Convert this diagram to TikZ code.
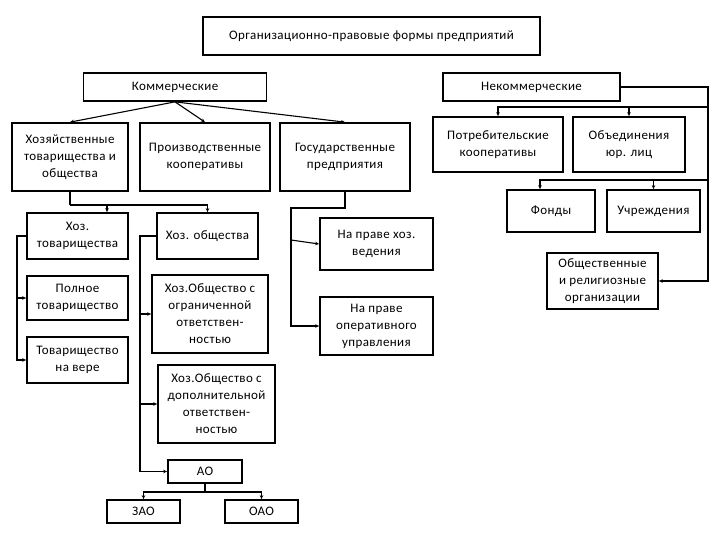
\documentclass[tikz,border=0pt]{standalone}
\usepackage{fontspec}
\setmainfont{Carlito}[LetterSpace=3]
\usetikzlibrary{arrows.meta}
\begin{document}
\begin{tikzpicture}[x=1pt,y=-1pt,
  box/.style={draw, line width=1.7pt, align=center, inner sep=0pt,
    font=\fontsize{13}{17}\selectfont},
  ln/.style={line width=1.1pt},
  arr/.style={line width=1.1pt, -{Stealth[length=4pt,width=3.5pt]}}]
\useasboundingbox (0,0) rectangle (720,540);
\node[box, minimum width=337, minimum height=38] (title) at (371.5,36) {Организационно-правовые формы предприятий};
\node[box, minimum width=183, minimum height=28] (kom) at (175,87) {Коммерческие};
\node[box, minimum width=177, minimum height=28] (nekom) at (531.5,87) {Некоммерческие};
\node[box, minimum width=116, minimum height=68] (hoz) at (70,157) {Хозяйственные\\товарищества и\\общества};
\node[box, minimum width=130, minimum height=68] (proizv) at (205,157) {Производственные\\кооперативы};
\node[box, minimum width=130, minimum height=68] (gos) at (345,157) {Государственные\\предприятия};
\node[box, minimum width=130, minimum height=55] (potr) at (498,144.5) {Потребительские\\кооперативы};
\node[box, minimum width=112, minimum height=55] (obed) at (629,144.5) {Объединения\\юр. лиц};
\node[box, minimum width=88, minimum height=42] (fond) at (551,211) {Фонды};
\node[box, minimum width=93, minimum height=42] (uchr) at (653.5,211) {Учреждения};
\node[box, minimum width=111, minimum height=56] (obsh) at (602.5,281) {Общественные\\и религиозные\\организации};
\node[box, minimum width=101, minimum height=46] (htov) at (77.5,236) {Хоз.\\товарищества};
\node[box, minimum width=101, minimum height=46] (hobsh) at (207.5,236) {Хоз. общества};
\node[box, minimum width=101, minimum height=44] (poln) at (77.5,298) {Полное\\товарищество};
\node[box, minimum width=101, minimum height=46] (vera) at (77.5,360) {Товарищество\\на вере};
\node[box, minimum width=116, minimum height=78] (ogr) at (210,314) {Хоз.Общество с\\ограниченной\\ответствен-\\ностью};
\node[box, minimum width=117, minimum height=78] (dop) at (216.5,404) {Хоз.Общество с\\дополнительной\\ответствен-\\ностью};
\node[box, minimum width=74, minimum height=23] (ao) at (205,471.5) {АО};
\node[box, minimum width=73, minimum height=23] (zao) at (143.5,511.5) {ЗАО};
\node[box, minimum width=73, minimum height=23] (oao) at (261.5,511.5) {ОАО};
\node[box, minimum width=113, minimum height=52] (hved) at (376.5,244) {На праве хоз.\\ведения};
\node[box, minimum width=113, minimum height=58] (oper) at (376.5,326) {На праве\\оперативного\\управления};
% commercial
\draw[arr] (kom.south) -- (hoz.north);
\draw[arr] (kom.south) -- (proizv.north);
\draw[arr] (kom.south) -- (gos.north);
% non-commercial
\coordinate (nr) at (708,87);
\coordinate (n1) at (708,107);
\coordinate (n2) at (708,180);
\draw[arr] (nekom.east) -- (nr) |- (obsh.east);
\draw[arr] (n1) -| (potr.north);
\draw[arr] (obed.north |- n1) -- (obed.north);
\draw[arr] (n2) -| ([xshift=-11pt]fond.north);
\draw[arr] (uchr.north |- n2) -- (uchr.north);
% hoz tree
\coordinate (hj) at (70,205);
\coordinate (hj2) at (107,205);
\draw[ln] (hoz.south) -- (hj);
\draw[arr] (hj) -| (hobsh.north);
\draw[arr] (hj2) -- (hj2 |- htov.north);
\coordinate (tl) at (17,236);
\draw[arr] (htov.west) -- (tl) |- (vera.west);
\draw[arr] (tl |- poln.west) -- (poln.west);
\coordinate (ol) at (140,236);
\draw[arr] (hobsh.west) -- (ol) |- (ao.west);
\draw[arr] (ol |- ogr.west) -- (ogr.west);
\draw[arr] (ol |- dop.west) -- (dop.west);
\coordinate (aj) at (205,492);
\draw[ln] (ao.south) -- (aj);
\draw[arr] (aj) -| (zao.north);
\draw[arr] (aj) -| (oao.north);
% gos tree
\coordinate (g1) at (345,208);
\coordinate (g2) at (291,208);
\draw[arr] (gos.south) -- (g1) -- (g2) |- (oper.west);
\coordinate (g3) at (291,240);
\draw[arr] (g3) -- (hved.west);
\end{tikzpicture}
\end{document}
